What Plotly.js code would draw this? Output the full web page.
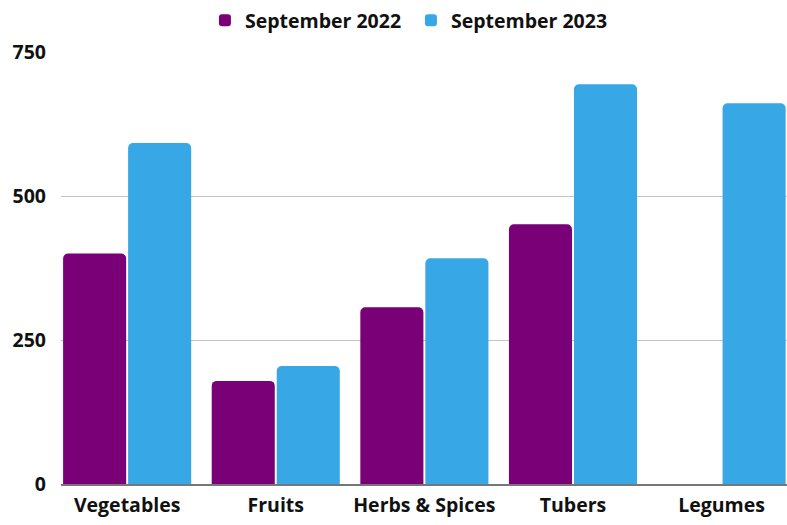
<!DOCTYPE html>
<html>
<head>
<meta charset="utf-8">
<script src="https://cdn.plot.ly/plotly-3.0.1.min.js"></script>
<style>html,body{margin:0;padding:0;background:#fff;}#chart{width:787px;height:525px;}</style>
</head>
<body>
<div id="chart"></div>
<script>
const categories = ["Vegetables", "Fruits", "Herbs & Spices", "Tubers", "Legumes"];
const seriesNames = ["September 2022", "September 2023"];
const sep2022 = [400, 179, 307, 451, 0];
const sep2023 = [592, 205, 392, 694, 661];
const yTicks = [0, 250, 500, 750];

const tf = {family: "Open Sans, sans-serif", size: 19.5, color: "#111", weight: "bold"};
const data = [
  {type: "bar", name: seriesNames[0], x: categories, y: sep2022, marker: {color: "#7a0077"}},
  {type: "bar", name: seriesNames[1], x: categories, y: sep2023, marker: {color: "#38a7e6"}}
];
const layout = {
  width: 787, height: 525,
  margin: {l: 61, r: 0, t: 52, b: 41},
  paper_bgcolor: "#fff", plot_bgcolor: "#fff",
  font: tf,
  barmode: "group", bargap: 0.125, bargroupgap: 0.03,
  barcornerradius: 5,
  showlegend: true,
  legend: {orientation: "h", x: 0.482, xanchor: "center", y: 0.998, yanchor: "top", yref: "container",
           font: tf, itemwidth: 30, tracegroupgap: 0, entrywidth: 161},
  xaxis: {type: "category", range: [-0.445, 4.44], showgrid: false, showline: true, linecolor: "#777", linewidth: 2,
          ticks: "", ticklabelstandoff: 3, tickfont: tf},
  yaxis: {range: [0, 750], tickvals: yTicks, ticktext: yTicks.map(String), showgrid: true, gridcolor: "#c4c4c4", gridwidth: 1,
          zeroline: false, ticks: "", ticklabelstandoff: 14, tickfont: tf}
};
Plotly.newPlot("chart", data, layout, {displayModeBar: false, staticPlot: true});
</script>
</body>
</html>
